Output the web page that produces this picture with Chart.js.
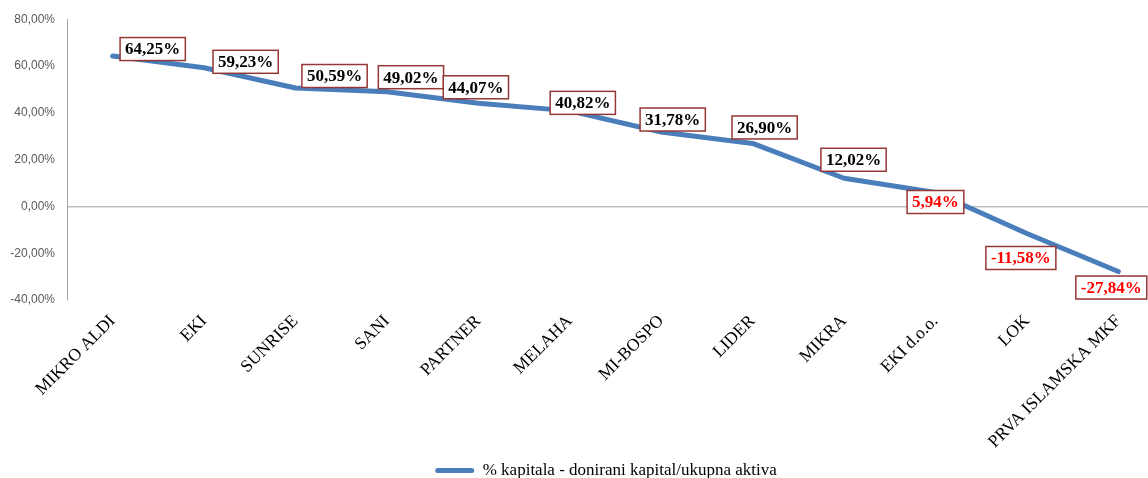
<!DOCTYPE html>
<html><head><meta charset="utf-8">
<script src="https://cdn.jsdelivr.net/npm/chart.js@4"></script>
<style>
html,body{margin:0;padding:0;background:#fff;overflow:hidden;width:1148px;height:478px}
#wrap{width:1164px;height:478px;position:relative}
canvas{display:block}
</style></head>
<body><div id="wrap"><canvas id="c" width="1164" height="478"></canvas></div>
<script>
const categories = ['MIKRO ALDI','EKI','SUNRISE','SANI','PARTNER','MELAHA','MI-BOSPO','LIDER','MIKRA','EKI d.o.o.','LOK','PRVA ISLAMSKA MKF'];
const values = [64.25,59.23,50.59,49.02,44.07,40.82,31.78,26.90,12.02,5.94,-11.58,-27.84];
const yMin = -40, yMax = 80, yStep = 20;
const seriesName = '% kapitala - donirani kapital/ukupna aktiva';

function fmt(v){ return v.toFixed(2).replace('.', ',') + '%'; }

const boxLabels = {
  id: 'boxLabels',
  afterDatasetsDraw(chart, args, opts) {
    const ctx = chart.ctx;
    const meta = chart.getDatasetMeta(0);
    ctx.save();
    ctx.font = 'bold 17px "Liberation Serif", "Times New Roman", serif';
    ctx.textAlign = 'center';
    ctx.textBaseline = 'middle';
    meta.data.forEach((pt, i) => {
      const v = chart.data.datasets[0].data[i];
      const off = opts.offsets[i] || [0, -15];
      const cx = pt.x + off[0], cy = pt.y + off[1];
      const txt = fmt(v);
      const w = ctx.measureText(txt).width + 10, h = 23;
      ctx.fillStyle = '#ffffff';
      ctx.fillRect(cx - w/2, cy - h/2, w, h);
      ctx.lineWidth = 1.5;
      ctx.strokeStyle = '#953735';
      ctx.strokeRect(cx - w/2, cy - h/2, w, h);
      ctx.fillStyle = opts.red.includes(i) ? '#FF0000' : '#000000';
      ctx.fillText(txt, cx, cy + 1);
    });
    ctx.restore();
  }
};

const shiftLegend = {
  id: 'shiftLegend',
  afterLayout(chart) {
    const l = chart.legend;
    l.left += 48;
    l.top += 11; l.bottom += 11;
    const x = chart.scales.x;
    x.bottom += 30; x.height += 30;
  }
};

new Chart(document.getElementById('c'), {
  type: 'line',
  data: {
    labels: categories,
    datasets: [{
      label: seriesName,
      data: values,
      borderColor: '#4A7EBB',
      backgroundColor: '#4A7EBB',
      borderWidth: 5,
      pointRadius: 0,
      pointHoverRadius: 0,
      tension: 0,
      borderCapStyle: 'round',
      borderJoinStyle: 'round',
      fill: false
    }]
  },
  options: {
    responsive: false,
    animation: false,
    devicePixelRatio: 1,
    layout: { padding: { top: 19, left: 0, right: 0, bottom: 0 } },
    plugins: {
      tooltip: { enabled: false },
      boxLabels: {
        offsets: [[40,-7],[41.5,-6],[39,-12],[24,-14.5],[-2.5,-16],[13,-8],[11.5,-12.5],[12,-16],[9.5,-18.5],[0,9.5],[-6,24.5],[-7,16]],
        red: [9,10,11]
      },
      legend: {
        position: 'bottom',
        labels: {
          boxWidth: 39,
          boxHeight: 5,
          padding: 10,
          color: '#000000',
          font: { family: '"Liberation Serif", "Times New Roman", serif', size: 17 },
          generateLabels(chart) {
            const items = Chart.defaults.plugins.legend.labels.generateLabels(chart);
            items.forEach(it => { it.lineWidth = 0; it.borderRadius = 2.5; it.fillStyle = '#4A7EBB'; });
            return items;
          }
        }
      }
    },
    scales: {
      x: {
        type: 'category',
        offset: true,
        grid: { display: false, drawTicks: false },
        border: { display: false },
        ticks: {
          autoSkip: false,
          minRotation: 45,
          maxRotation: 45,
          padding: 11,
          color: '#000000',
          font: { family: '"Liberation Serif", "Times New Roman", serif', size: 17.5 }
        },
        afterFit(scale) { scale.height = 141; }
      },
      y: {
        min: yMin,
        max: yMax,
        ticks: {
          stepSize: yStep,
          padding: 12,
          color: '#595959',
          font: { family: '"Liberation Sans", Arial, sans-serif', size: 12 },
          callback: (v) => fmt(v)
        },
        grid: {
          drawTicks: false,
          color: (c) => (c.tick && c.tick.value === 0) ? '#BFBFBF' : 'rgba(0,0,0,0)',
          lineWidth: 1.5
        },
        border: { display: true, color: '#A6A6A6', width: 1 },
        afterFit(scale) { scale.width = 67; }
      }
    }
  },
  plugins: [boxLabels, shiftLegend]
});
</script>
</body></html>
